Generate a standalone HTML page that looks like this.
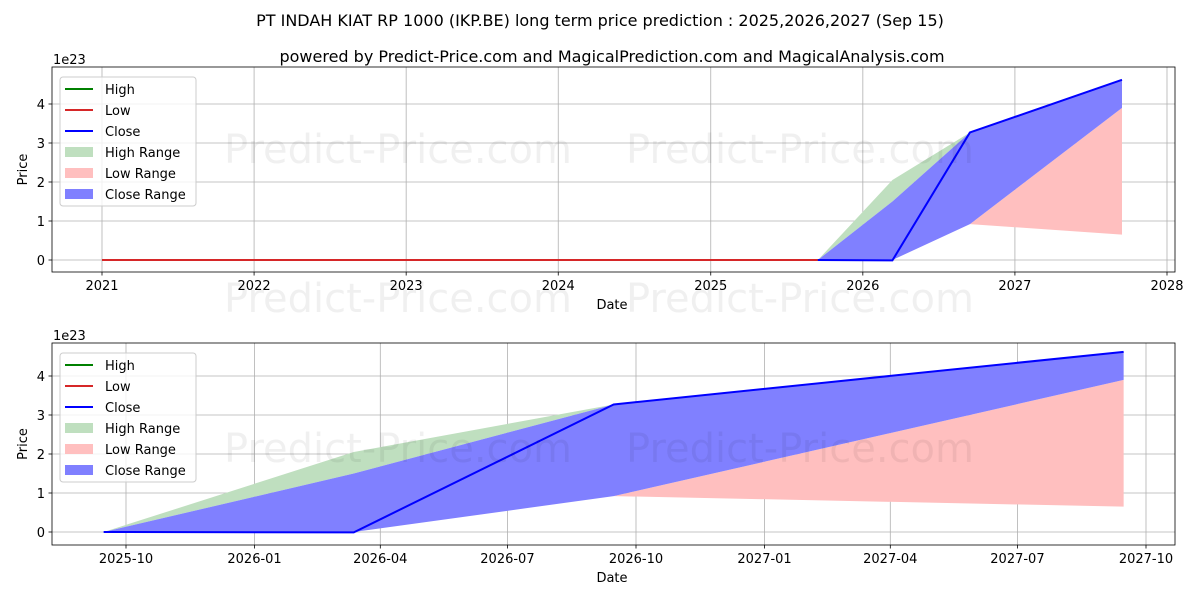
<!DOCTYPE html>
<html><head><meta charset="utf-8"><style>
body{margin:0;background:#fff}
svg{display:block;font-family:"DejaVu Sans","Liberation Sans",sans-serif}
</style></head><body>
<svg id="chart" width="1200" height="600" viewBox="0 0 1200 600" xmlns="http://www.w3.org/2000/svg">
<text x="600" y="26" text-anchor="middle" font-size="16">PT INDAH KIAT RP 1000 (IKP.BE) long term price prediction : 2025,2026,2027 (Sep 15)</text>
<text x="612" y="62" text-anchor="middle" font-size="16">powered by Predict-Price.com and MagicalPrediction.com and MagicalAnalysis.com</text>
</svg>
<script>
const histDates=["2021-01-01","2022-01-01","2023-01-01","2024-01-01","2025-01-01","2025-09-15"];
const histHigh=[0,0,0,0,0,0];
const histLow=[0,0,0,0,0,0];
const predDates=["2025-09-15","2026-03-13","2026-09-15","2027-09-15"];
const closeVals=[0,-0.01,3.27,4.62];
const highUpper=[0,2.05,3.27,4.62];
const closeUpper=[0,1.5,3.27,4.62];
const closeLower=[0,0,0.92,3.9];
const lowUpper=[0,0,0.92,3.9];
const lowLower=[0,0,0.92,0.65];
const topTicks=["2021","2022","2023","2024","2025","2026","2027","2028"];
const botTicks=["2025-10","2026-01","2026-04","2026-07","2026-10","2027-01","2027-04","2027-07","2027-10"];
const yTicks=[0,1,2,3,4];

const NS="http://www.w3.org/2000/svg";
const svg=document.getElementById('chart');
function el(tag,attrs,parent,text){const e=document.createElementNS(NS,tag);for(const k in attrs)e.setAttribute(k,attrs[k]);if(text!==undefined)e.textContent=text;(parent||svg).appendChild(e);return e;}
const t=s=>Date.parse(s.length===7?s+"-01":s);

function panel(cfg){
  const g=el('g',{});
  
  
  const x=d=>cfg.x0+(t(d)-t(cfg.d0))/(t(cfg.d1)-t(cfg.d0))*(cfg.x1-cfg.x0);
  const y=v=>cfg.y0-v*39;
  cfg.ticks.forEach(tk=>{const X=x(tk);
    const l=el('line',{x1:X,x2:X,y1:cfg.top,y2:cfg.bot,stroke:'#b0b0b0','stroke-width':0.8},g);
    
    el('line',{x1:X,x2:X,y1:cfg.bot,y2:cfg.bot+3.5,stroke:'#000','stroke-width':0.8},g);
    const tl=el('text',{x:X,y:cfg.bot+18,'text-anchor':'middle','font-size':13},g,tk);
    
  });
  yTicks.forEach(v=>{const Y=y(v);
    const l=el('line',{x1:52,x2:1175,y1:Y,y2:Y,stroke:'#b0b0b0','stroke-width':0.8},g);
    
    el('line',{x1:48.5,x2:52,y1:Y,y2:Y,stroke:'#000','stroke-width':0.8},g);
    const tl=el('text',{x:45,y:Y+5,'text-anchor':'end','font-size':13},g,String(v));
    
  });
  function band(up,lo,fill,name){
    let pts=predDates.map((d,i)=>x(d)+','+y(up[i]));
    pts=pts.concat(predDates.map((d,i)=>x(d)+','+y(lo[i])).reverse());
    const p=el('polygon',{points:pts.join(' '),fill:fill},g);
    
  }
  band(highUpper,closeUpper,'#bfdfbf','high-range-band');
  band(lowUpper,lowLower,'#ffbfbf','low-range-band');
  band(closeUpper,closeLower,'#8080ff','close-range-band');
  function line(ds,vs,col,name){
    const p=el('polyline',{points:ds.map((d,i)=>x(d)+','+y(vs[i])).join(' '),fill:'none',stroke:col,'stroke-width':2},g);
    
  }
  if(cfg.hist){line(histDates,histHigh,'#008000','high-line');line(histDates,histLow,'#d62728','low-line');}
  line(predDates,closeVals,'#0000ff','close-line');
  cfg.wm.forEach(p=>{
    const w=el('text',{x:p[0],y:p[1],'text-anchor':'middle','font-size':40,fill:'#000','fill-opacity':0.06},g,'Predict-Price.com');
    
    
  });
  const fr=el('rect',{x:52,y:cfg.top,width:1123,height:cfg.bot-cfg.top,fill:'none',stroke:'#000','stroke-width':0.8},g);
  
  const ex=el('text',{x:53,y:cfg.top-3,'font-size':13},g,'1e23');
  
  const yl=el('text',{x:27,y:(cfg.top+cfg.bot)/2,'text-anchor':'middle','font-size':13,transform:`rotate(-90 27 ${(cfg.top+cfg.bot)/2})`},g,'Price');
  
  const xl=el('text',{x:612,y:cfg.bot+37,'text-anchor':'middle','font-size':13},g,'Date');
  
  const lg=el('g',{},g);
  
  const L=cfg.top+10;
  el('rect',{x:60,y:L,width:136,height:129,rx:3,fill:'#fff','fill-opacity':0.8,stroke:'#ccc'},lg);
  const items=[['High','line','#008000'],['Low','line','#d62728'],['Close','line','#0000ff'],['High Range','box','#bfdfbf'],['Low Range','box','#ffbfbf'],['Close Range','box','#8080ff']];
  items.forEach((it,i)=>{const Y=L+12+i*21;
    const e=el('g',{},lg);
    
    if(it[1]==='line')el('line',{x1:65,x2:93,y1:Y,y2:Y,stroke:it[2],'stroke-width':2},e);
    else el('rect',{x:65,y:Y-5,width:28,height:10,fill:it[2]},e);
    el('text',{x:105,y:Y+5,'font-size':13},e,it[0]);
  });
}
panel({name:'long-term-panel',x0:102,x1:1167,d0:'2021-01-01',d1:'2028-01-01',y0:260,top:67,bot:272,ticks:topTicks,hist:true,wm:[[398,163],[800,163],[398,312],[800,312]]});
panel({name:'prediction-panel',x0:126,x1:1146,d0:'2025-10-01',d1:'2027-10-01',y0:532,top:343,bot:545,ticks:botTicks,hist:false,wm:[[398,462],[800,462]]});
</script>
</body></html>
